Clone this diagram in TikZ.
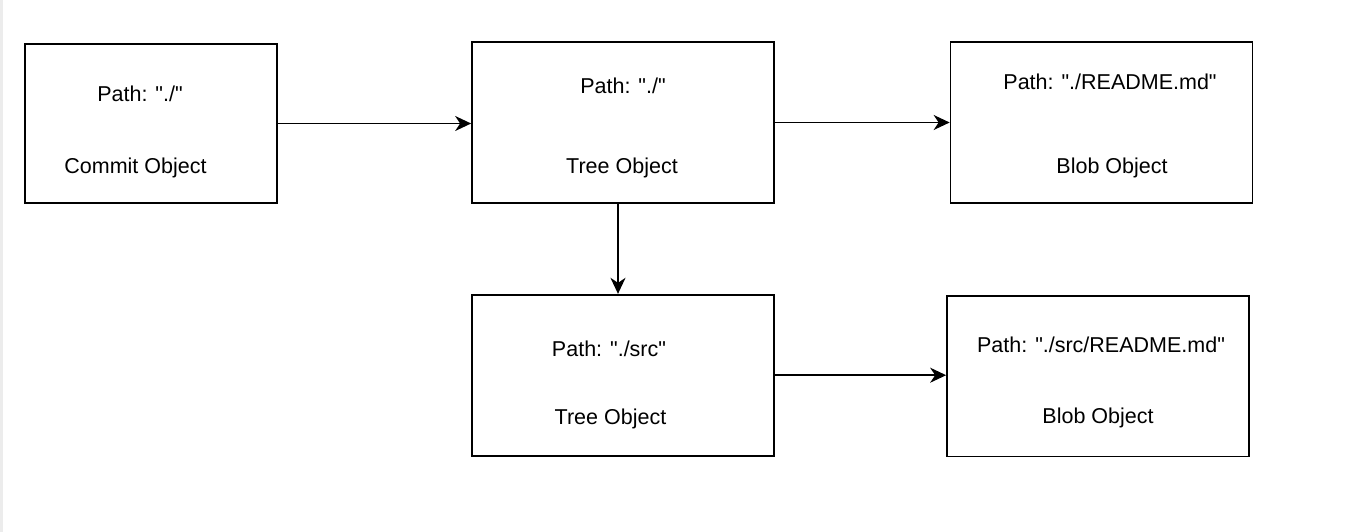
\documentclass[tikz,border=0pt]{standalone}
\usepackage{fontspec}
\setmainfont{Liberation Sans}[Ligatures=TeXOff]
\usetikzlibrary{arrows.meta}
\begin{document}
\begin{tikzpicture}[x=1pt,y=-1pt,
  objbox/.style={draw, line width=1.7pt, inner sep=0pt, minimum width=302pt, minimum height=161pt},
  lbl/.style={anchor=base, inner sep=0pt, font=\fontsize{21.5}{26}\selectfont},
  link/.style={-{Stealth[length=16pt,width=15pt,inset=5pt]}, line width=1.7pt}]
          \useasboundingbox (0,0) rectangle (1360,532);
          \fill [gray!15] (0,0) rectangle (3,532);

          \node[objbox, minimum width=252pt, minimum height=159pt] (commit) at (151,123.5) {};
          \node[objbox] (tree1) at (623,122.5) {};
          \node[objbox] (blob1) at (1101.5,122.5) {};
          \node[objbox] (tree2) at (623,375.2) {};
          \node[objbox, minimum height=160.5pt] (blob2) at (1098,376.2) {};

          \node[lbl] (commitpath) at (140,102) {Path: "./"};
          \node[lbl] (committype) at (135.5,173) {Commit Object};
          \node[lbl] (tree1path) at (623,94) {Path: "./"};
          \node[lbl] (tree1type) at (622,173) {Tree Object};
          \node[lbl] (blob1path) at (1110,90) {Path: "./README.md"};
          \node[lbl] (blob1type) at (1112,173) {Blob Object};
          \node[lbl] (tree2path) at (609,356) {Path: "./src"};
          \node[lbl] (tree2type) at (610.5,424) {Tree Object};
          \node[lbl] (blob2path) at (1101,352) {Path: "./src/README.md"};
          \node[lbl] (blob2type) at (1098,423) {Blob Object};

          \draw[link] (commit.east) -- (commit.east -| tree1.west);
          \draw[link] (tree1.east) -- (blob1.west);
          \draw[link] ([xshift=-5pt]tree1.south) -- ([xshift=-5pt]tree2.north);
          \draw[link] (tree2.east) -- (tree2.east -| blob2.west);
        \end{tikzpicture}
\end{document}
